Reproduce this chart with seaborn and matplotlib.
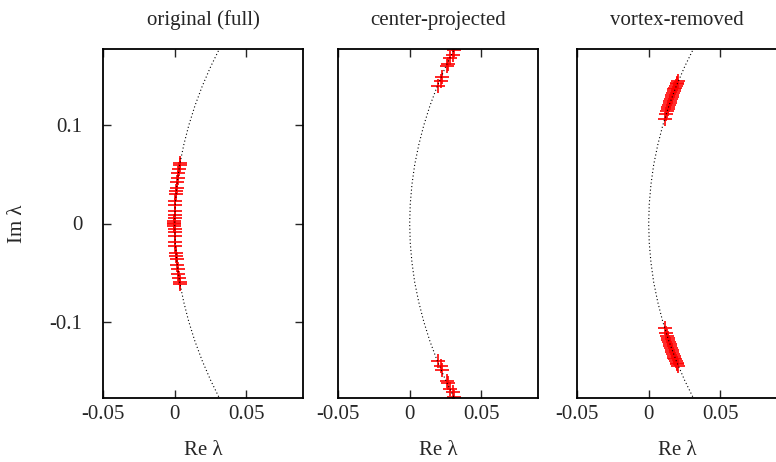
import numpy as np
import seaborn as sns
import matplotlib.pyplot as plt

# reference curve (Re, Im)
curve_im = [-0.18, -0.16, -0.14, -0.12, -0.10, -0.08, -0.06, -0.04, -0.02, 0.0,
            0.02, 0.04, 0.06, 0.08, 0.10, 0.12, 0.14, 0.16, 0.18]
curve_re = [0.0318, 0.0251, 0.0192, 0.0141, 0.0098, 0.0063, 0.0035, 0.0016, 0.0004, 0.0,
            0.0004, 0.0016, 0.0035, 0.0063, 0.0098, 0.0141, 0.0192, 0.0251, 0.0318]

# eigenvalues, upper half (conjugates mirrored below)
full_im = [0.062, 0.060, 0.056, 0.052, 0.046, 0.042, 0.036, 0.033, 0.030, 0.023,
           0.019, 0.013, 0.009, 0.006, 0.003, 0.001]
full_re = [0.0037, 0.0034, 0.0031, 0.0026, 0.0021, 0.0017, 0.0013, 0.0010, 0.0009, 0.0005,
           0.0003, 0.0002, 0.0001, 0.0000, -0.0002, -0.0003]

center_im = [0.177, 0.172, 0.169, 0.163, 0.161, 0.149, 0.145, 0.140]
center_re = [0.0306, 0.0299, 0.0283, 0.0269, 0.0260, 0.0226, 0.0219, 0.0196]

vortex_im = [0.145, 0.143, 0.142, 0.140, 0.138, 0.137, 0.135, 0.133, 0.131, 0.129,
             0.127, 0.125, 0.123, 0.121, 0.119, 0.117, 0.115, 0.112, 0.107]
vortex_re = [0.0205, 0.0200, 0.0195, 0.0192, 0.0186, 0.0180, 0.0176, 0.0170, 0.0166, 0.0160,
             0.0156, 0.0150, 0.0146, 0.0140, 0.0137, 0.0132, 0.0127, 0.0120, 0.0112]

titles = ["original (full)", "center-projected", "vortex-removed"]
xticks = [-0.05, 0, 0.05]
xtick_labels = ["-0.05", "0", "0.05"]
yticks = [-0.1, 0, 0.1]
ytick_labels = ["-0.1", "0", "0.1"]

sns.set_style("ticks")
plt.rcParams["font.family"] = ["Liberation Serif", "DejaVu Serif"]
plt.rcParams["axes.unicode_minus"] = False

fig = plt.figure(figsize=(7.76, 4.62), dpi=100)
lefts = [103 / 776, 338 / 776, 577 / 776]
bottom = 1 - 398 / 462
height = (398 - 49) / 462
width = 200 / 776

datasets = [(full_re, full_im), (center_re, center_im), (vortex_re, vortex_im)]

for i, (re, im) in enumerate(datasets):
    ax = fig.add_axes([lefts[i], bottom, width, height])
    sns.lineplot(x=curve_re, y=curve_im, sort=False, estimator=None, errorbar=None,
                 color="black", lw=0.8, linestyle=(0, (1, 2.2)), ax=ax)
    xs = list(re) + list(re)
    ys = list(im) + [-v for v in im]
    sns.scatterplot(x=xs, y=ys, marker="+", color="red", s=90, linewidth=1.2, ax=ax)
    ax.set_xlim(-0.05, 0.0895)
    ax.set_ylim(-0.178, 0.178)
    ax.set_xticks(xticks)
    ax.set_xticklabels(xtick_labels)
    ax.tick_params(axis="x", direction="in", top=True, bottom=True, length=6,
                   width=1, labelsize=15, pad=5)
    if i == 0:
        ax.set_yticks(yticks)
        ax.set_yticklabels(ytick_labels)
        ax.tick_params(axis="y", direction="in", left=True, right=True, length=6,
                       width=1, labelsize=15, pad=15)
    else:
        ax.set_yticks([])
    for sp in ax.spines.values():
        sp.set_visible(True)
        sp.set_linewidth(1.3)
        sp.set_color("black")
    ax.set_title(titles[i], fontsize=15, pad=17)
    ax.set_xlabel("Re λ", fontsize=15, labelpad=12)

fig.text(18 / 776, 1 - 224 / 462, "Im λ", rotation=90, ha="center", va="center",
         fontsize=15)

fig.savefig("out.png", dpi=100)
